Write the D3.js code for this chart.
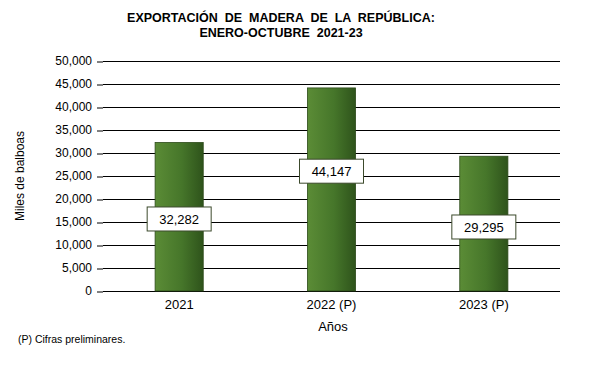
<!DOCTYPE html>
<html>
<head>
<meta charset="utf-8">
<script src="https://cdn.jsdelivr.net/npm/d3@7"></script>
<style>
  body { margin: 0; background: #fff; }
  text { font-family: "Liberation Sans", Arial, sans-serif; fill: #000; }
</style>
</head>
<body>
<script>
// chart data
var years = ["2021", "2022 (P)", "2023 (P)"];
var values = [32282, 44147, 29295];
var yTicks = [0, 5000, 10000, 15000, 20000, 25000, 30000, 35000, 40000, 45000, 50000];
// where the value box sits, as a share of the bar height
var labelAt = [0.485, 0.59, 0.475];

var margin = {top: 61, right: 30, bottom: 75, left: 103},
    width = 590 - margin.left - margin.right,
    height = 366 - margin.top - margin.bottom;

var svg = d3.select("body").append("svg")
    .attr("width", 590)
    .attr("height", 366);

var defs = svg.append("defs");
var grad = defs.append("linearGradient")
    .attr("id", "barGrad")
    .attr("x1", "0%").attr("x2", "100%").attr("y1", "0%").attr("y2", "0%");
grad.append("stop").attr("offset", "0%").attr("stop-color", "#5b8c36");
grad.append("stop").attr("offset", "55%").attr("stop-color", "#46762a");
grad.append("stop").attr("offset", "100%").attr("stop-color", "#2e531b");

// title
var title = svg.append("text")
    .attr("x", 281)
    .attr("text-anchor", "middle")
    .style("font-weight", "bold")
    .style("font-size", "12.5px")
    .style("white-space", "pre");
title.append("tspan").attr("x", 281).attr("y", 22).text("EXPORTACIÓN  DE  MADERA  DE  LA  REPÚBLICA:");
title.append("tspan").attr("x", 281).attr("y", 37).text("ENERO-OCTUBRE  2021-23");

var g = svg.append("g")
    .attr("transform", "translate(" + margin.left + "," + margin.top + ")");

var x = d3.scaleBand().domain(years).range([0, width]).paddingInner(0.684).paddingOuter(0.342);
var y = d3.scaleLinear().domain([0, 50000]).range([height, 0]);

// gridlines
g.selectAll(".grid")
  .data(yTicks)
  .enter().append("line")
    .attr("x1", 0).attr("x2", width)
    .attr("y1", function(d) { return y(d) + 0.5; })
    .attr("y2", function(d) { return y(d) + 0.5; })
    .attr("stroke", "#000")
    .attr("stroke-width", 1);

// y axis
var yAxis = g.append("g")
    .call(d3.axisLeft(y).tickValues(yTicks).tickSize(6).tickPadding(5).tickFormat(d3.format(",")));
yAxis.select(".domain").remove();
yAxis.selectAll("text").style("font-size", "12px").style("font-family", "'Liberation Sans', Arial, sans-serif");
yAxis.selectAll(".tick line").attr("transform", "translate(0,0.5)");

// bars
g.selectAll(".bar")
  .data(values)
  .enter().append("rect")
    .attr("class", "bar")
    .attr("x", function(d, i) { return x(years[i]); })
    .attr("y", function(d) { return y(d); })
    .attr("width", x.bandwidth())
    .attr("height", function(d) { return height - y(d); })
    .attr("fill", "url(#barGrad)")
    .attr("stroke", "#2c4a1a")
    .attr("stroke-width", 0.8);

// value boxes
var lab = g.selectAll(".lab")
  .data(values)
  .enter().append("g")
    .attr("transform", function(d, i) {
      return "translate(" + (x(years[i]) + x.bandwidth() / 2) + "," + y(d * labelAt[i]) + ")";
    });
lab.append("rect")
    .attr("x", -32).attr("y", -12)
    .attr("width", 64).attr("height", 24)
    .attr("fill", "#fff")
    .attr("stroke", "#3c4a2c")
    .attr("stroke-width", 1);
lab.append("text")
    .attr("text-anchor", "middle")
    .attr("dy", "0.36em")
    .style("font-size", "13px")
    .text(function(d) { return d3.format(",")(d); });

// x axis labels
var xAxis = g.append("g")
    .attr("transform", "translate(0," + height + ")")
    .call(d3.axisBottom(x).tickSize(0).tickPadding(9));
xAxis.select(".domain").remove();
xAxis.selectAll("text").style("font-size", "13px").style("font-family", "'Liberation Sans', Arial, sans-serif");

// axis titles
svg.append("text")
    .attr("x", 333).attr("y", 331)
    .attr("text-anchor", "middle")
    .style("font-size", "13px")
    .text("Años");

svg.append("text")
    .attr("transform", "translate(24,176) rotate(-90)")
    .attr("text-anchor", "middle")
    .style("font-size", "12px")
    .text("Miles de balboas");

// footnote
svg.append("text")
    .attr("x", 18).attr("y", 343)
    .style("font-size", "10.5px")
    .text("(P) Cifras preliminares.");
</script>
</body>
</html>
